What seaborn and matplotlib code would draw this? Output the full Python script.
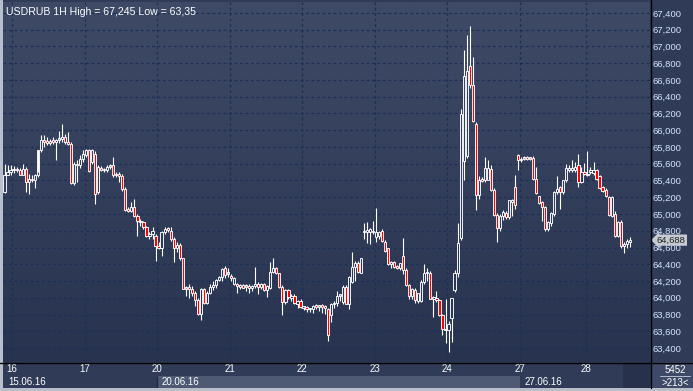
import numpy as np
import pandas as pd
import matplotlib
matplotlib.use('Agg')
import matplotlib.pyplot as plt
from matplotlib.colors import LinearSegmentedColormap
from matplotlib.lines import Line2D
from matplotlib.patches import Rectangle
from matplotlib.ticker import FuncFormatter, MultipleLocator
import seaborn as sns

# hourly USDRUB candles
opens = [65.26, 65.47, 65.50, 65.52, 65.53, 65.52, 65.47, 65.54, 65.38, 65.42,
         65.40, 65.46, 65.76, 65.88, 65.86, 65.85, 65.87, 65.86, 65.88, 65.90,
         65.92, 65.86, 65.84, 65.37, 65.60, 65.58, 65.66, 65.70, 65.76, 65.62,
         65.72, 65.26, 65.55, 65.52, 65.53, 65.56, 65.58, 65.46, 65.47, 65.45,
         65.30, 65.05, 65.04, 65.08, 64.98, 64.92, 64.90, 64.84, 64.74, 64.76,
         64.74, 64.62, 64.60, 64.78, 64.82, 64.80, 64.70, 64.59, 64.63, 64.47,
         64.11, 64.12, 64.11, 64.06, 63.97, 63.81, 64.10, 63.94, 64.06, 64.13,
         64.15, 64.21, 64.25, 64.35, 64.28, 64.26, 64.17, 64.17, 64.13, 64.15,
         64.13, 64.14, 64.12, 64.14, 64.17, 64.13, 64.16, 64.09, 64.12, 64.31,
         64.35, 64.29, 64.13, 63.95, 64.09, 64.00, 64.02, 63.93, 63.96, 63.88,
         63.89, 63.86, 63.87, 63.90, 63.89, 63.90, 63.89, 63.86, 63.80, 63.92,
         63.94, 64.02, 63.95, 64.13, 63.93, 64.19, 64.37, 64.42, 64.30, 64.78,
         64.79, 64.78, 64.80, 64.72, 64.74, 64.80, 64.67, 64.59, 64.40, 64.43,
         64.37, 64.36, 64.50, 64.33, 64.15, 64.02, 64.09, 63.96, 63.96, 64.19,
         64.29, 64.30, 63.99, 64.00, 63.97, 63.79, 63.63, 63.62, 63.76, 64.09,
         64.29, 64.71, 65.63, 65.69, 66.77, 66.54, 66.07, 65.23, 65.41, 65.40,
         65.41, 65.54, 65.29, 64.99, 64.83, 64.98, 65.01, 64.96, 65.14, 65.32,
         65.70, 65.64, 65.66, 65.67, 65.66, 65.67, 65.42, 65.21, 65.14, 65.08,
         64.82, 64.89, 65.00, 65.26, 65.32, 65.26, 65.40, 65.53, 65.53, 65.52,
         65.58, 65.38, 65.49, 65.48, 65.50, 65.49, 65.52, 65.45, 65.32, 65.29,
         65.20, 64.98, 65.00, 64.74, 64.91, 64.62, 64.64, 64.66]
highs = [65.60, 65.58, 65.58, 65.57, 65.56, 65.55, 65.60, 65.56, 65.48, 65.46,
         65.48, 65.50, 65.94, 65.94, 65.92, 65.90, 65.92, 65.90, 65.99, 66.08,
         65.96, 65.98, 65.86, 65.62, 65.64, 65.70, 65.76, 65.78, 65.78, 65.78,
         65.75, 65.58, 65.57, 65.55, 65.58, 65.60, 65.68, 65.50, 65.50, 65.48,
         65.32, 65.08, 65.14, 65.18, 65.00, 64.94, 64.92, 64.86, 64.78, 64.84,
         64.76, 64.66, 64.80, 64.84, 64.85, 64.84, 64.72, 64.66, 64.65, 64.48,
         64.14, 64.16, 64.14, 64.08, 64.00, 64.12, 64.12, 64.08, 64.16, 64.20,
         64.22, 64.26, 64.36, 64.38, 64.36, 64.28, 64.25, 64.18, 64.16, 64.17,
         64.16, 64.16, 64.15, 64.37, 64.19, 64.18, 64.18, 64.15, 64.43, 64.47,
         64.37, 64.30, 64.15, 64.10, 64.10, 64.04, 64.04, 63.97, 63.98, 63.90,
         63.90, 63.88, 63.91, 63.92, 63.91, 63.92, 63.91, 63.88, 63.94, 63.96,
         64.08, 64.05, 64.15, 64.15, 64.26, 64.55, 64.44, 64.44, 64.48, 64.89,
         64.91, 64.83, 64.92, 65.07, 64.80, 64.82, 64.69, 64.60, 64.44, 64.44,
         64.39, 64.42, 64.71, 64.35, 64.17, 64.12, 64.12, 64.06, 64.21, 64.40,
         64.36, 64.32, 64.02, 64.08, 63.99, 63.81, 63.99, 63.72, 64.00, 64.33,
         64.89, 66.25, 66.96, 67.14, 67.245, 66.88, 66.10, 65.45, 65.44, 65.68,
         65.64, 65.58, 65.31, 65.01, 65.00, 65.05, 65.03, 65.17, 65.18, 65.47,
         65.72, 65.68, 65.69, 65.69, 65.68, 65.69, 65.56, 65.22, 65.15, 65.09,
         64.92, 65.02, 65.28, 65.45, 65.34, 65.40, 65.60, 65.58, 65.65, 65.62,
         65.72, 65.56, 65.61, 65.75, 65.56, 65.62, 65.54, 65.47, 65.34, 65.31,
         65.22, 65.22, 65.04, 64.92, 64.93, 64.66, 64.70, 64.73]
lows = [65.25, 65.46, 65.47, 65.49, 65.50, 65.46, 65.46, 65.26, 65.24, 65.38,
        65.31, 65.44, 65.74, 65.80, 65.82, 65.82, 65.83, 65.64, 65.85, 65.86,
        65.84, 65.82, 65.36, 65.35, 65.38, 65.55, 65.62, 65.68, 65.50, 65.60,
        65.12, 65.24, 65.51, 65.50, 65.50, 65.54, 65.44, 65.44, 65.38, 65.28,
        65.04, 65.02, 65.02, 64.96, 64.74, 64.86, 64.82, 64.72, 64.70, 64.70,
        64.44, 64.58, 64.50, 64.76, 64.79, 64.68, 64.43, 64.55, 64.45, 64.10,
        64.02, 64.00, 64.02, 63.90, 63.80, 63.73, 63.92, 63.92, 64.04, 64.09,
        64.12, 64.20, 64.20, 64.24, 64.25, 64.20, 64.15, 64.06, 64.10, 64.12,
        64.08, 64.06, 64.08, 64.12, 64.04, 64.10, 64.08, 64.01, 64.11, 64.29,
        64.28, 64.12, 63.79, 63.93, 63.98, 63.96, 63.93, 63.88, 63.88, 63.85,
        63.83, 63.83, 63.82, 63.86, 63.84, 63.82, 63.81, 63.48, 63.71, 63.88,
        63.90, 63.96, 63.93, 63.92, 63.86, 64.18, 64.20, 64.30, 64.29, 64.70,
        64.65, 64.64, 64.76, 64.66, 64.70, 64.67, 64.55, 64.39, 64.36, 64.36,
        64.34, 64.33, 64.28, 64.14, 63.98, 63.98, 63.94, 63.94, 63.95, 64.17,
        64.20, 63.98, 63.77, 63.95, 63.78, 63.56, 63.46, 63.35, 63.47, 64.07,
        64.25, 64.69, 65.40, 65.67, 66.50, 66.10, 65.05, 65.18, 65.38, 65.38,
        65.40, 65.27, 64.98, 64.67, 64.80, 64.93, 64.94, 64.94, 64.98, 65.06,
        65.53, 65.62, 65.64, 65.64, 65.64, 65.41, 65.24, 65.12, 64.92, 64.80,
        64.80, 64.86, 64.98, 65.24, 65.06, 65.24, 65.38, 65.50, 65.50, 65.50,
        65.32, 65.37, 65.46, 65.45, 65.48, 65.47, 65.40, 65.30, 65.26, 65.20,
        64.98, 64.96, 64.72, 64.72, 64.60, 64.54, 64.60, 64.61]
closes = [65.47, 65.50, 65.52, 65.53, 65.52, 65.47, 65.54, 65.38, 65.42, 65.40,
          65.46, 65.76, 65.88, 65.86, 65.85, 65.87, 65.86, 65.88, 65.90, 65.92,
          65.86, 65.84, 65.37, 65.60, 65.58, 65.66, 65.72, 65.76, 65.51, 65.76,
          65.24, 65.56, 65.52, 65.53, 65.56, 65.57, 65.46, 65.48, 65.45, 65.30,
          65.05, 65.04, 65.08, 64.98, 64.92, 64.90, 64.84, 64.74, 64.76, 64.80,
          64.62, 64.59, 64.78, 64.82, 64.81, 64.70, 64.59, 64.63, 64.47, 64.11,
          64.12, 64.11, 64.06, 63.97, 63.81, 64.10, 63.94, 64.06, 64.13, 64.15,
          64.21, 64.25, 64.34, 64.27, 64.30, 64.23, 64.24, 64.14, 64.15, 64.12,
          64.14, 64.12, 64.14, 64.17, 64.13, 64.16, 64.09, 64.14, 64.31, 64.35,
          64.29, 64.13, 63.95, 64.09, 64.01, 64.02, 63.94, 63.96, 63.89, 63.89,
          63.86, 63.87, 63.90, 63.89, 63.90, 63.89, 63.88, 63.55, 63.92, 63.93,
          64.02, 64.03, 64.13, 63.93, 64.25, 64.37, 64.42, 64.31, 64.47, 64.79,
          64.81, 64.82, 64.78, 64.78, 64.78, 64.68, 64.56, 64.40, 64.43, 64.37,
          64.36, 64.42, 64.33, 64.15, 64.02, 64.11, 63.97, 64.06, 64.19, 64.29,
          64.30, 63.99, 64.00, 63.97, 63.79, 63.63, 63.61, 63.69, 64.00, 64.29,
          64.65, 66.19, 66.65, 66.71, 66.54, 66.11, 65.23, 65.41, 65.39, 65.55,
          65.55, 65.29, 64.99, 64.83, 64.98, 65.02, 64.96, 65.17, 65.17, 65.11,
          65.64, 65.66, 65.67, 65.66, 65.67, 65.42, 65.25, 65.13, 65.08, 64.82,
          64.90, 65.01, 65.26, 65.30, 65.26, 65.40, 65.55, 65.55, 65.55, 65.56,
          65.38, 65.50, 65.48, 65.46, 65.53, 65.53, 65.42, 65.31, 65.27, 65.21,
          64.99, 65.20, 64.74, 64.91, 64.62, 64.64, 64.68, 64.688]

# first candle of each trading day, and the day labels
day_starts = [3, 27, 51, 75, 99, 123, 147, 171, 193]
day_labels = ['16', '17', '20', '21', '22', '23', '24', '27', '28']
week_starts = [0, 51, 171]
week_labels = ['15.06.16', '20.06.16', '27.06.16']

title = 'USDRUB 1H High = 67,245 Low = 63,35'
last_price = closes[-1]

df = pd.DataFrame({'open': opens, 'high': highs, 'low': lows, 'close': closes})
df['idx'] = np.arange(len(df))
df['top'] = df[['open', 'close']].max(axis=1)
df['bot'] = df[['open', 'close']].min(axis=1)
df['up'] = df['close'] >= df['open']

sns.set_style('dark')
plt.rcParams['font.family'] = ['Liberation Sans', 'DejaVu Sans']

W, H = 693, 391
fig = plt.figure(figsize=(W / 100, H / 100), dpi=100)
fig.patch.set_facecolor('#303b57')


def box(x0, y0, x1, y1):
    return [x0 / W, 1 - y1 / H, (x1 - x0) / W, (y1 - y0) / H]


ax = fig.add_axes(box(3, 2, 650, 362))
bg = LinearSegmentedColormap.from_list('bg', ['#3e4a66', '#28334f'])
ax.imshow(np.linspace(0, 1, 256).reshape(-1, 1), cmap=bg, aspect='auto',
          extent=[0, 1, 0, 1], transform=ax.transAxes, zorder=0)

xmin, xmax = -0.5, 213.7
ymin, ymax = 63.233, 67.531

# candles: wicks outside the body, then the bodies
ax.vlines(df['idx'], df['top'], df['high'], color='white', lw=0.8, zorder=3)
ax.vlines(df['idx'], df['low'], df['bot'], color='white', lw=0.8, zorder=3)
body_h = np.maximum(df['top'] - df['bot'], 0.022)
face = np.where(df['up'], 'none', '#ff0000')
ax.bar(df['idx'], body_h, bottom=df['bot'], width=0.72, color=face,
       edgecolor='white', linewidth=0.65, zorder=4)

ax.set_xlim(xmin, xmax)
ax.set_ylim(ymin, ymax)
ax.set_xticks([d - 0.5 for d in day_starts])
ax.set_xticklabels([])
ax.yaxis.set_major_locator(MultipleLocator(0.2))
ax.yaxis.set_major_formatter(FuncFormatter(lambda v, p: f'{v:.3f}'.replace('.', ',')))
ax.yaxis.tick_right()
ax.tick_params(axis='y', length=0, pad=2, labelsize=6.8, labelcolor='#d2e4ff')
ax.tick_params(axis='x', length=0)
ax.grid(True, color='#1c2f57', linestyle=(0, (2.2, 2.2)), linewidth=0.9)
for s in ax.spines.values():
    s.set_visible(False)

ax.text(0.004, 0.985, title, transform=ax.transAxes, color='white',
        fontsize=7.6, va='top', ha='left', zorder=6)
ax.text(634, 63.29, '6', color='white', fontsize=7, ha='left', va='bottom', zorder=6)

# last price tag on the price scale
ax.annotate(f'{last_price:.3f}'.replace('.', ','), xy=(1.0, last_price),
            xycoords=('axes fraction', 'data'), xytext=(7, 0),
            textcoords='offset pixels', ha='left', va='center', fontsize=6.8,
            color='#202020', annotation_clip=False, zorder=10,
            bbox=dict(boxstyle='larrow,pad=0.12', fc='#c6cad2', ec='none'))

# date bar under the chart
axb = fig.add_axes(box(3, 363, 650, 388))
axb.set_facecolor('#3d4966')
axb.set_xlim(xmin, xmax)
axb.set_ylim(0, 1)
axb.axvspan(week_starts[1] - 0.5, week_starts[2] - 0.5, ymin=0, ymax=0.5,
            color='#4e5a74', lw=0)
axb.axvspan(204.8, xmax, color='#27314c', lw=0)
axb.vlines(week_starts[1] - 0.5, 0, 0.5, color='#1e2944', lw=1)
for d, lab in zip(day_starts, day_labels):
    axb.text(d - 0.5, 0.74, lab, color='white', fontsize=7, ha='center', va='center')
for w, lab in zip(week_starts, week_labels):
    axb.annotate(lab, xy=(w - 0.5, 0.24), xytext=(5, 0), textcoords='offset pixels',
                 color='white', fontsize=7, ha='left', va='center')
axb.axis('off')

# corner panel
fig.add_artist(Rectangle((651 / W, 3 / H), 42 / W, 26 / H,
                         transform=fig.transFigure, color='#3d4966', lw=0))
fig.text(675 / W, 1 - 370 / H, '5452', color='white', fontsize=7, ha='center', va='center')
fig.add_artist(Line2D([660 / W, 690 / W], [1 - 376 / H, 1 - 376 / H], color='#c8d0e0', lw=0.6))
fig.text(675 / W, 1 - 383 / H, '>213<', color='white', fontsize=7, ha='center', va='center')

# frame lines
fig.add_artist(Line2D([650.5 / W, 650.5 / W], [3 / H, 1], color='black', lw=1))
fig.add_artist(Line2D([0, 1], [1 - 362.5 / H, 1 - 362.5 / H], color='black', lw=1))
fig.add_artist(Rectangle((0, 0), 3 / W, 1, transform=fig.transFigure, color='#b9bfca', lw=0))
fig.add_artist(Rectangle((0, 0), 1, 3 / H, transform=fig.transFigure, color='#b9bfca', lw=0))

fig.savefig('out.png', dpi=100, facecolor=fig.get_facecolor())
